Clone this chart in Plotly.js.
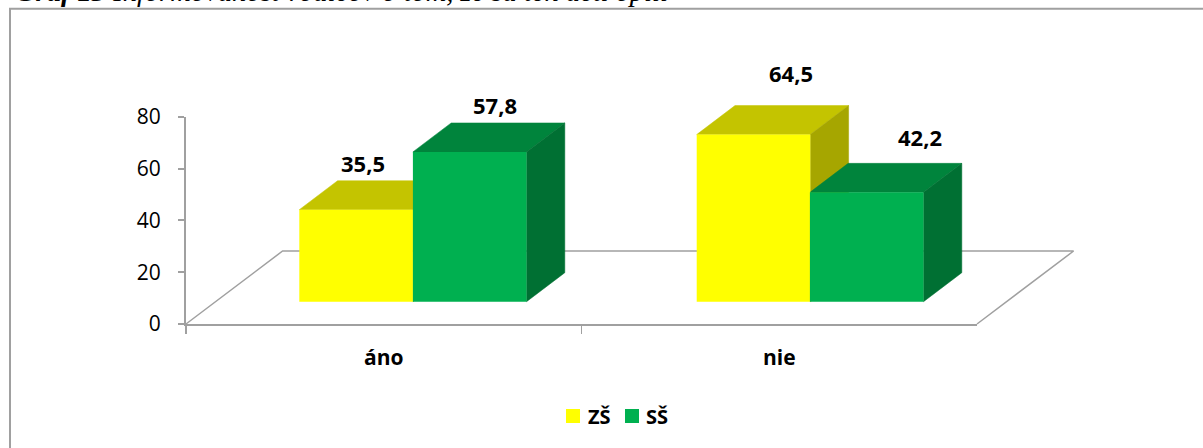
<!DOCTYPE html>
<html><head><meta charset="utf-8">
<script src="https://cdn.plot.ly/plotly-3.0.1.min.js"></script>
<style>html,body{margin:0;padding:0;background:#fff;overflow:hidden}</style>
</head><body><div id="chart" style="width:1203px;height:448px"></div>
<script>
const categories = ['áno', 'nie'];
const seriesNames = ['ZŠ', 'SŠ'];
const zsValues = [35.5, 64.5];
const ssValues = [57.8, 42.2];
const yTicks = [0, 20, 40, 60, 80];
const captionLead = 'Graf 13';
const captionText = 'Informovanosť rodičov o tom, že sa ten deti opili';

const W = 1203, H = 448, L = 186, R = 977, T = 116.7, B = 324;
const pxX = (R - L) / 2, pxY = (B - T) / 80;
const FONT = '"Open Sans", sans-serif', TXT = '#000000', GRAY = '#A0A0A0';
const LIFT = 22.3 / pxY, barW = 113.6 / pxX;
const DX = 38.3 / pxX, DY = 29 / pxY;
const FLOOR_X = 96.6 / pxX, FLOOR_Y = 73 / pxY;
const zsOffset = [-0.2135, -0.2087], ssOffset = [0.0737, 0.0775];
const colors = {ZS: ['#FFFF00', '#C4C400', '#A6A600'], SS: ['#00B050', '#00843C', '#007033']};

const px = v => v / W, py = v => 1 - v / H;
const face = (xs, ys, color) => ({type: 'scatter', mode: 'lines', x: xs, y: ys, xaxis: 'x', yaxis: 'y',
  fill: 'toself', fillcolor: color, line: {color: color, width: 0.5}, hoverinfo: 'skip', showlegend: false});
const depthFaces = (cat, off, val, cols) => {
  const x0 = cat + off, x1 = x0 + barW, b = LIFT, t = LIFT + val;
  return [
    face([x0, x1, x1 + DX, x0 + DX, x0], [t, t, t + DY, t + DY, t], cols[1]),
    face([x1, x1 + DX, x1 + DX, x1, x1], [b, b + DY, t + DY, t, b], cols[2])
  ];
};
const floorLine = {type: 'scatter', mode: 'lines', xaxis: 'x', yaxis: 'y', hoverinfo: 'skip', showlegend: false,
  x: [-0.5, -0.5 + FLOOR_X, 1.5 + FLOOR_X, 1.5], y: [0, FLOOR_Y, FLOOR_Y, 0], line: {color: GRAY, width: 1.5}};

const traces = [floorLine];
categories.forEach((c, i) => {
  traces.push(...depthFaces(i, zsOffset[i], zsValues[i], colors.ZS));
  traces.push(...depthFaces(i, ssOffset[i], ssValues[i], colors.SS));
});
const bar = (name, vals, off, color) => ({type: 'bar', name: name, x: categories, y: vals, base: [LIFT, LIFT],
  offset: off, width: [barW, barW], xaxis: 'x2', yaxis: 'y2', marker: {color: color, line: {width: 0}}, hoverinfo: 'skip', showlegend: false});
traces.push(bar(seriesNames[0], zsValues, zsOffset, colors.ZS[0]));
traces.push(bar(seriesNames[1], ssValues, ssOffset, colors.SS[0]));

const fmt = v => v.toFixed(1).replace('.', ',');
const nudges = [[7, 46.5], [25, 46.5], [37, 61.5], [53, 55]];
const annos = [];
[[zsValues, zsOffset], [ssValues, ssOffset]].forEach((s, k) => s[0].forEach((v, i) => {
  const n = nudges[k + i * 2];
  annos.push({xref: 'x2', yref: 'y2', x: i + s[1][i] + barW / 2, y: LIFT + v, text: '<b>' + fmt(v) + '</b>', showarrow: false,
    xshift: n[0], yshift: n[1], xanchor: 'center', yanchor: 'middle', font: {family: FONT, size: 22, color: TXT}});
}));
annos.push({xref: 'paper', yref: 'paper', x: px(13), y: py(9.5), xanchor: 'left', yanchor: 'bottom', showarrow: false, align: 'left',
  text: '<b><i>' + captionLead + '</i></b> <i>' + captionText + '</i>', font: {family: '"Liberation Serif", serif', size: 28.5, color: TXT}});

const legendX = [566, 625], legendTextX = [587, 645], legendColors = [colors.ZS[0], colors.SS[0]];
const legendShapes = seriesNames.map((n, i) => ({type: 'rect', xref: 'paper', yref: 'paper', x0: px(legendX[i]), x1: px(legendX[i] + 14),
  y0: py(423), y1: py(409), fillcolor: legendColors[i], line: {width: 0}}));
seriesNames.forEach((n, i) => annos.push({xref: 'paper', yref: 'paper', x: px(legendTextX[i]), y: py(416), xanchor: 'left', yanchor: 'middle', showarrow: false,
  borderpad: 0, text: '<b>' + n + '</b>', font: {family: FONT, size: 20, color: TXT}}));

const layout = {
  width: W, height: H, autosize: false, paper_bgcolor: '#fff', plot_bgcolor: 'rgba(0,0,0,0)',
  margin: {l: 0, r: 0, t: 0, b: 0, pad: 0}, barmode: 'overlay', font: {family: FONT, color: TXT}, showlegend: false,
  xaxis: {domain: [0, 1], anchor: 'y', range: [-L / pxX - 0.5, (W - L) / pxX - 0.5], visible: false, fixedrange: true},
  yaxis: {domain: [0, 1], anchor: 'x', range: [(B - H) / pxY, B / pxY], visible: false, fixedrange: true},
  xaxis2: {domain: [L / W, R / W], type: 'category', anchor: 'y2', range: [-0.5, 1.5], tickson: 'boundaries',
    ticks: 'outside', ticklen: 8, tickwidth: 1.5, tickcolor: GRAY, showline: true, linecolor: GRAY, linewidth: 2, showgrid: false, zeroline: false,
    ticklabelstandoff: 14, tickfont: {family: FONT, size: 21, color: TXT, weight: 700}, fixedrange: true},
  yaxis2: {domain: [(H - B) / H, (H - T) / H], anchor: 'x2', range: [0, 80], tickvals: yTicks, ticks: 'outside', ticklen: 6, tickwidth: 2, tickcolor: GRAY,
    showline: true, linecolor: GRAY, linewidth: 2, showgrid: false, zeroline: false, ticklabelstandoff: 13,
    tickfont: {family: FONT, size: 21, color: TXT}, fixedrange: true},
  annotations: annos,
  shapes: [{type: 'rect', xref: 'paper', yref: 'paper', x0: px(10), x1: px(W + 10), y0: py(H + 10), y1: py(8.7), line: {color: GRAY, width: 2}, fillcolor: 'rgba(0,0,0,0)', layer: 'below'}, ...legendShapes]
};
Plotly.newPlot('chart', traces, layout, {displayModeBar: false, staticPlot: true});
</script></body></html>
